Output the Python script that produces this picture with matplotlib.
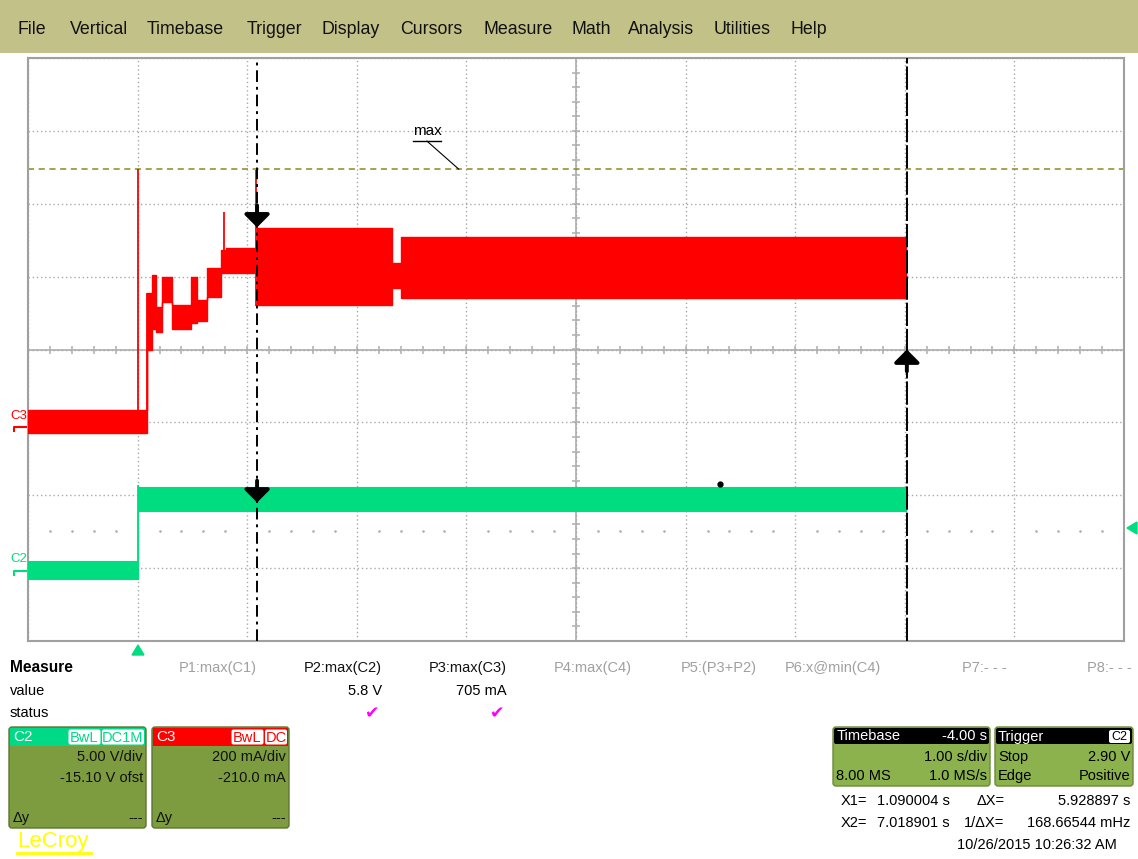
import numpy as np
import matplotlib.pyplot as plt
from matplotlib.patches import Rectangle, FancyBboxPatch, Polygon

plt.rcParams['font.family'] = ['Liberation Sans', 'DejaVu Sans']

W, H = 1138, 859

# scope settings
t_left, t_right = -1.0, 9.0          # 1.00 s/div, 10 div
c2_scale, c2_ofst = 5.0, -15.10      # V/div, V offset
c3_scale, c3_ofst = 200.0, -210.0    # mA/div, mA offset
trig_level = 2.90                    # V on C2
c2_max = 5.8                         # V
c3_max = 705                         # mA
x1_t, x2_t = 1.090004, 7.018901      # cursors, s

# C3 current envelope (mA), one band per segment [t_i, t_i+1)
c3_t = [-1.0, 0.09, 0.13, 0.17, 0.22, 0.31, 0.49, 0.54, 0.63, 0.76, 0.81, 1.09, 2.32, 2.40, 7.01]
c3_hi = [45, 366, 415, 328, 410, 333, 410, 347, 435, 484, 489, 544, 448, 520]
c3_lo = [-18, 210, 265, 259, 341, 265, 284, 287, 355, 421, 421, 333, 380, 352]
# single spikes on C3
c3_spk_t = [0.0, 0.09, 0.785, 1.08]
c3_spk_lo = [-18, -18, 480, 330]
c3_spk_hi = [705, 366, 587, 703]

# C2 voltage envelope (V)
c2_t = [-1.0, 0.0, 7.01]
c2_hi = [0.58, 5.65]
c2_lo = [-0.65, 4.0]

menu_items = ["File", "Vertical", "Timebase", "Trigger", "Display", "Cursors",
              "Measure", "Math", "Analysis", "Utilities", "Help"]
menu_x = [18, 70, 147, 247, 322, 400, 484, 572, 628, 714, 791]

param_labels = ["P1:max(C1)", "P2:max(C2)", "P3:max(C3)", "P4:max(C4)",
                "P5:(P3+P2)", "P6:x@min(C4)", "P7:- - -", "P8:- - -"]
param_active = [False, True, True, False, False, False, False, False]
param_values = {1: "5.8 V", 2: "705 mA"}


def c2div(v):
    return (np.asarray(v, dtype=float) + c2_ofst) / c2_scale


def c3div(i):
    return (np.asarray(i, dtype=float) + c3_ofst) / c3_scale


fig = plt.figure(figsize=(W / 100, H / 100), dpi=100)
fig.patch.set_facecolor('white')

# overlay axes in pixel units for all the screen furniture
ui = fig.add_axes([0, 0, 1, 1], zorder=0)
ui.set_xlim(0, W)
ui.set_ylim(H, 0)
ui.axis('off')

# menu bar
ui.add_patch(Rectangle((0, 0), W, 53, facecolor='#C2C188', edgecolor='none'))
for name, x in zip(menu_items, menu_x):
    ui.text(x, 29, name, fontsize=12.8, va='center', ha='left', color='#111111')

# waveform grid
pl, pr, pt, pb = 28, 1124, 58, 641
ax = fig.add_axes([pl / W, 1 - pb / H, (pr - pl) / W, (pb - pt) / H], zorder=1)
ax.set_xlim(t_left, t_right)
ax.set_ylim(-4, 4)
ax.set_xticks(np.arange(t_left, t_right + 0.5, 1.0))
ax.set_yticks(np.arange(-4, 5, 1))
ax.tick_params(length=0, labelbottom=False, labelleft=False)
ax.grid(True, color='#A8A8A8', ls=(0, (1, 2)), lw=1)
for s in ax.spines.values():
    s.set_color('#A0A0A0')
    s.set_linewidth(1.5)

tc = (t_left + t_right) / 2
ax.axhline(0, color='#B4B4B4', lw=1.3, zorder=1)
ax.axvline(tc, color='#B4B4B4', lw=1.3, zorder=1)
mt = np.arange(t_left, t_right + 0.01, 0.2)
ax.plot(mt, np.zeros_like(mt), ls='none', marker='|', ms=6, color='#B4B4B4', mew=1.2, zorder=1)
mv = np.arange(-4, 4.01, 0.2)
ax.plot(np.full_like(mv, tc), mv, ls='none', marker='_', ms=6, color='#B4B4B4', mew=1.2, zorder=1)
# faint dots at trigger level
td = mt[np.abs(mt - np.round(mt)) > 0.05]
ax.plot(td, np.full_like(td, c2div(trig_level) - 0.05), ls='none', marker='.', ms=1.8,
        color='#B0B0B0', zorder=1)

# max marker line for C3
ax.axhline(c3div(c3_max), color='#8C8C1C', lw=1.1, ls=(0, (4, 3)), zorder=2)

# C3 trace
ax.fill_between(c3_t, c3div(c3_lo + [c3_lo[-1]]), c3div(c3_hi + [c3_hi[-1]]),
                step='post', color='#FF0000', lw=1.0, zorder=3)
ax.vlines(c3_spk_t, c3div(c3_spk_lo), c3div(c3_spk_hi), color='#FF0000', lw=1.3, zorder=3)

# C2 trace
ax.fill_between(c2_t, c2div(c2_lo + [c2_lo[-1]]), c2div(c2_hi + [c2_hi[-1]]),
                step='post', color='#00DD80', lw=0.8, zorder=3)
ax.vlines([0.0], c2div(c2_lo[0]), c2div(c2_max), color='#00DD80', lw=1.3, zorder=3)
ax.plot([5.31], [c2div(5.86)], marker='o', ms=3.5, color='black', zorder=4)

# cursors
ax.axvline(x1_t, color='black', lw=1.4, ls=(0, (6, 2.5, 1.5, 2.5)), zorder=5)
ax.axvline(x2_t, color='black', lw=1.4, ls=(0, (12, 1.5)), zorder=5)
arrow = dict(arrowstyle='-|>,head_length=0.55,head_width=0.55', color='black', lw=2.8,
             mutation_scale=14, shrinkA=0, shrinkB=0)
ax.annotate('', xy=(x1_t, c3div(545)), xytext=(x1_t, c3div(545) + 0.3), arrowprops=arrow, zorder=6)
ax.annotate('', xy=(x1_t, c2div(4.6)), xytext=(x1_t, c2div(4.6) + 0.3), arrowprops=arrow, zorder=6)
ax.annotate('', xy=(x2_t, 0.0), xytext=(x2_t, -0.3), arrowprops=arrow, zorder=6)

# "max" label with leader
ax.text(2.51, 3.0, "max", fontsize=11, va='center', ha='left', zorder=6)
ax.plot([2.51, 2.77], [2.86, 2.86], color='black', lw=1, zorder=6)
ax.plot([2.64, 2.93], [2.86, c3div(c3_max)], color='black', lw=0.8, zorder=6)

# trace labels and ground markers left of the grid
ui.text(10, 416, "C3", fontsize=9.5, color='#FF0000', va='center')
ui.plot([14, 14, 28], [431, 427, 427], color='#FF0000', lw=1.5)
ui.text(10, 559, "C2", fontsize=9.5, color='#00DD80', va='center')
ui.plot([14, 14, 28], [575, 571, 571], color='#00DD80', lw=1.5)

# trigger markers
ui.add_patch(Polygon([(132, 655), (144, 655), (138, 645)], closed=True, color='#00DD80'))
ui.add_patch(Polygon([(1127, 528), (1137, 522), (1137, 534)], closed=True, color='#00DD80'))

# measurement table
fs = 10.5
ui.text(10, 668, "Measure", fontsize=11.2, fontweight='bold', va='center')
ui.text(10, 691, "value", fontsize=fs, va='center')
ui.text(10, 713, "status", fontsize=fs, va='center')
for k, (lab, act) in enumerate(zip(param_labels, param_active)):
    xr = 257 + k * 124.9
    ui.text(xr, 668, lab, fontsize=fs, va='center', ha='right',
            color='#111111' if act else '#A0A0A0')
    if k in param_values:
        ui.text(xr, 691, param_values[k], fontsize=fs, va='center', ha='right')
        ui.text(xr - 2, 713, "\u2714", fontsize=12.5, va='center', ha='right',
                color='#FF00FF', family='DejaVu Sans')


def chan_box(x0, title, hdr_col, tags, lines):
    ui.add_patch(FancyBboxPatch((x0, 727), 137, 101, boxstyle='round,pad=0,rounding_size=3',
                                facecolor='#7D9B3F', edgecolor='#5E7430', lw=1))
    ui.add_patch(Rectangle((x0 + 1, 728), 135, 18, facecolor=hdr_col, edgecolor='none'))
    ui.text(x0 + 4, 737, title, fontsize=11, color='white', va='center')
    xr = x0 + 135
    for tag in reversed(tags):
        wt = 10 * len(tag) + 2
        ui.add_patch(FancyBboxPatch((xr - wt, 729.5), wt, 15, boxstyle='round,pad=0,rounding_size=2',
                                    facecolor='white', edgecolor='none'))
        ui.text(xr - wt / 2, 737.5, tag, fontsize=10.5, color=hdr_col, va='center', ha='center')
        xr -= wt + 1.5
    for y, s in zip([757, 778], lines):
        ui.text(x0 + 134, y, s, fontsize=fs, va='center', ha='right', color='#111111')
    ui.text(x0 + 4, 818, "\u0394y", fontsize=fs, va='center', color='#111111')
    ui.text(x0 + 134, 818, "---", fontsize=fs, va='center', ha='right', color='#111111')


chan_box(9, "C2", '#00D985', ["BwL", "DC1M"], ["%.2f V/div" % c2_scale, "%.2f V ofst" % c2_ofst])
chan_box(152, "C3", '#FF0000', ["BwL", "DC"], ["%d mA/div" % c3_scale, "%.1f mA" % c3_ofst])

# timebase and trigger boxes
for x0, w in [(833, 157), (995, 138)]:
    ui.add_patch(FancyBboxPatch((x0, 727), w, 59, boxstyle='round,pad=0,rounding_size=3',
                                facecolor='#8CB24E', edgecolor='#6B8A36', lw=1))
    ui.add_patch(FancyBboxPatch((x0 + 1, 728), w - 2, 16, boxstyle='round,pad=0,rounding_size=2',
                                facecolor='black', edgecolor='none'))
ui.text(837, 736.5, "Timebase", fontsize=fs, color='white', va='center')
ui.text(987, 736.5, "-4.00 s", fontsize=fs, color='white', va='center', ha='right')
ui.text(987, 757, "1.00 s/div", fontsize=fs, va='center', ha='right')
ui.text(836, 776, "8.00 MS", fontsize=fs, va='center')
ui.text(987, 776, "1.0 MS/s", fontsize=fs, va='center', ha='right')
ui.text(998, 736.5, "Trigger", fontsize=fs, color='white', va='center')
ui.add_patch(FancyBboxPatch((1109, 730), 21, 13, boxstyle='round,pad=0,rounding_size=2',
                            facecolor='white', edgecolor='none'))
ui.text(1119.5, 736.5, "C2", fontsize=9, va='center', ha='center')
ui.text(998, 757, "Stop", fontsize=fs, va='center')
ui.text(1130, 757, "%.2f V" % trig_level, fontsize=fs, va='center', ha='right')
ui.text(998, 776, "Edge", fontsize=fs, va='center')
ui.text(1130, 776, "Positive", fontsize=fs, va='center', ha='right')

# cursor readouts
dx = x2_t - x1_t
ui.text(841, 801, "X1=", fontsize=fs, va='center')
ui.text(877, 801, "%.6f s" % x1_t, fontsize=fs, va='center')
ui.text(977, 801, "\u0394X=", fontsize=fs, va='center')
ui.text(1130, 801, "%.6f s" % dx, fontsize=fs, va='center', ha='right')
ui.text(841, 823, "X2=", fontsize=fs, va='center')
ui.text(877, 823, "%.6f s" % x2_t, fontsize=fs, va='center')
ui.text(964, 823, "1/\u0394X=", fontsize=fs, va='center')
ui.text(1130, 823, "168.66544 mHz", fontsize=fs, va='center', ha='right')
ui.text(1117, 845, "10/26/2015 10:26:32 AM", fontsize=fs, va='center', ha='right')

# logo
ui.text(17, 842, "LeCroy", fontsize=16, color='#FFFF00', va='center')
ui.plot([17, 91], [853, 853], color='#FFFF00', lw=2)

fig.savefig("out.png", dpi=100)
